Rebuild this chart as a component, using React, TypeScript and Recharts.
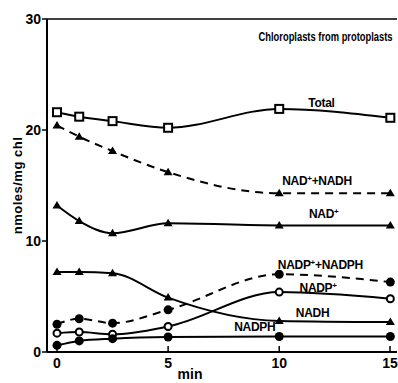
import React from 'react';
import { LineChart, Line, XAxis, YAxis, ReferenceLine, ReferenceDot } from 'recharts';

// time points (min) and values (nmoles/mg chl)
const minutes = [0, 1, 2.5, 5, 10, 15];
const total = [21.6, 21.2, 20.8, 20.2, 21.9, 21.1];
const nadSum = [20.4, 19.4, 18.1, 16.2, 14.3, 14.3];
const nadOx = [13.2, 11.8, 10.7, 11.6, 11.4, 11.4];
const nadh = [7.2, 7.2, 7.1, 4.9, 2.8, 2.7];
const nadpSum = [2.5, 3.0, 2.6, 3.8, 7.0, 6.3];
const nadpOx = [1.7, 1.8, 1.6, 2.3, 5.4, 4.8];
const nadph = [0.6, 1.0, 1.2, 1.35, 1.4, 1.4];

const xTicks = [0, 5, 10, 15];
const yTicks = [0, 10, 20, 30];

const data = minutes.map((m, i) => ({
  m,
  total: total[i],
  nadSum: nadSum[i],
  nadOx: nadOx[i],
  nadh: nadh[i],
  nadpSum: nadpSum[i],
  nadpOx: nadpOx[i],
  nadph: nadph[i],
}));

// label text pieces: [text, superscript]
const tags: { x: number; y: number; parts: [string, boolean][] }[] = [
  { x: 11.9, y: 22.4, parts: [['Total', false]] },
  { x: 11.7, y: 15.4, parts: [['NAD', false], ['+', true], ['+NADH', false]] },
  { x: 12.0, y: 12.4, parts: [['NAD', false], ['+', true]] },
  { x: 11.85, y: 7.8, parts: [['NADP', false], ['+', true], ['+NADPH', false]] },
  { x: 11.75, y: 5.8, parts: [['NADP', false], ['+', true]] },
  { x: 11.5, y: 3.5, parts: [['NADH', false]] },
  { x: 8.9, y: 2.25, parts: [['NADPH', false]] },
];

const FONT = '"Liberation Sans", Arial, sans-serif';

const openSquare = (p: any) => {
  if (p.cx == null) return <g key={p.index} />;
  return <rect key={p.index} x={p.cx - 4} y={p.cy - 4} width={8} height={8} fill="#fff" stroke="#000" strokeWidth={2} />;
};
const triangle = (p: any) => {
  if (p.cx == null) return <g key={p.index} />;
  const { cx, cy } = p;
  return <path key={p.index} d={`M${cx},${cy - 4.5} L${cx + 4.5},${cy + 3} L${cx - 4.5},${cy + 3} Z`} fill="#000" />;
};
const dotFilled = (p: any) => {
  if (p.cx == null) return <g key={p.index} />;
  return <circle key={p.index} cx={p.cx} cy={p.cy} r={4.5} fill="#000" />;
};
const dotOpen = (p: any) => {
  if (p.cx == null) return <g key={p.index} />;
  return <circle key={p.index} cx={p.cx} cy={p.cy} r={3.5} fill="#fff" stroke="#000" strokeWidth={2} />;
};

const XTick = (p: any) => (
  <g>
    <line x1={p.x} y1={p.y} x2={p.x} y2={p.y - 6} stroke="#000" strokeWidth={1.5} />
    <text x={p.x} y={p.y + 16} textAnchor="middle" fontFamily={FONT} fontWeight="bold" fontSize={14} fill="#000">
      {p.payload.value}
    </text>
  </g>
);

const tagContent = (parts: [string, boolean][]) => (props: any) => {
  const { x, y } = props.viewBox;
  return (
    <text x={x} y={y + 4} textAnchor="middle" fontFamily={FONT} fontWeight="bold" fontSize={12} letterSpacing={-0.3} fill="#000">
      {parts.map(([t, sup], i) => (
        <tspan key={i} fontSize={sup ? 8 : 12} baselineShift={sup ? 'super' : undefined}>{t}</tspan>
      ))}
    </text>
  );
};

export default function App() {
  return (
    <div style={{ width: 398, height: 383, background: '#fff' }}>
      <style>{'body{margin:0;}'}</style>
      <LineChart width={398} height={383} data={data} margin={{ top: 19, right: 1, bottom: 0, left: 0 }}>
        <XAxis
          dataKey="m"
          type="number"
          domain={[-0.45, 15.3]}
          ticks={xTicks}
          allowDataOverflow
          height={31}
          tickSize={0}
          tickMargin={0}
          tickLine={false}
          axisLine={{ stroke: '#000', strokeWidth: 2 }}
          tick={XTick}
          label={{
            content: (props: any) => (
              <text x={props.viewBox.x + 143} y={props.viewBox.y + 27} textAnchor="middle" fontFamily={FONT} fontWeight="bold" fontSize={14} fill="#000">
                min
              </text>
            ),
          }}
        />
        <YAxis
          type="number"
          domain={[0, 30]}
          ticks={yTicks}
          width={47}
          tickSize={5}
          tickMargin={1}
          tickLine={{ stroke: '#000', strokeWidth: 1.5 }}
          axisLine={{ stroke: '#000', strokeWidth: 2 }}
          tick={{ fill: '#000', fontFamily: FONT, fontWeight: 'bold', fontSize: 14 }}
          label={{
            content: (props: any) => {
              const cy = props.viewBox.y + props.viewBox.height / 2;
              return (
                <text x={17} y={cy} transform={`rotate(-90 17 ${cy})`} textAnchor="middle" dominantBaseline="central" fontFamily={FONT} fontWeight="bold" fontSize={13} letterSpacing={0.5} fill="#000">
                  nmoles/mg chl
                </text>
              );
            },
          }}
        />
        <ReferenceLine y={30} stroke="#000" strokeWidth={1.5} />
        <Line type="monotone" dataKey="total" stroke="#000" strokeWidth={2} dot={openSquare} isAnimationActive={false} />
        <Line type="monotone" dataKey="nadSum" stroke="#000" strokeWidth={2} strokeDasharray="8 6" dot={triangle} isAnimationActive={false} />
        <Line type="monotone" dataKey="nadOx" stroke="#000" strokeWidth={2} dot={triangle} isAnimationActive={false} />
        <Line type="monotone" dataKey="nadh" stroke="#000" strokeWidth={2} dot={triangle} isAnimationActive={false} />
        <Line type="monotone" dataKey="nadpSum" stroke="#000" strokeWidth={2} strokeDasharray="8 6" dot={dotFilled} isAnimationActive={false} />
        <Line type="monotone" dataKey="nadpOx" stroke="#000" strokeWidth={2} dot={dotOpen} isAnimationActive={false} />
        <Line type="monotone" dataKey="nadph" stroke="#000" strokeWidth={2} dot={dotFilled} isAnimationActive={false} />
        {tags.map((t, i) => (
          <ReferenceDot key={i} x={t.x} y={t.y} r={0} fill="none" stroke="none" label={{ content: tagContent(t.parts) }} />
        ))}
        <ReferenceDot
          x={15.1}
          y={28.4}
          r={0}
          fill="none"
          stroke="none"
          label={{
            content: (props: any) => (
              <text
                transform={`translate(${props.viewBox.x} ${props.viewBox.y + 4}) scale(0.72 1)`}
                textAnchor="end"
                fontFamily={FONT}
                fontWeight="bold"
                fontSize={13}
                fill="#000"
              >
                Chloroplasts from protoplasts
              </text>
            ),
          }}
        />
      </LineChart>
    </div>
  );
}
